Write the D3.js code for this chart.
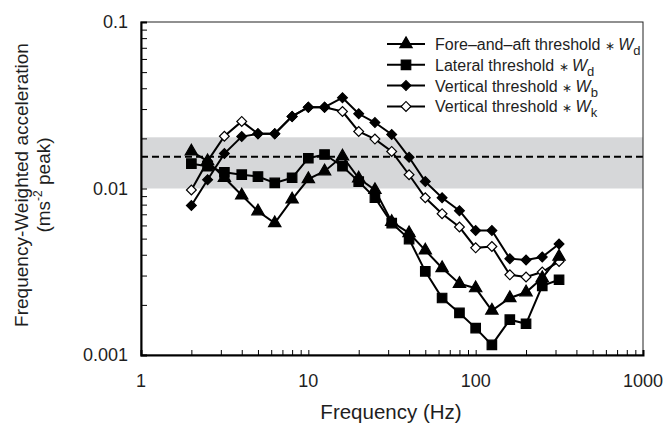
<!DOCTYPE html>
<html>
<head>
<meta charset="utf-8">
<script src="https://cdn.jsdelivr.net/npm/d3@7"></script>
<style>
  body { margin: 0; background: #fff; }
  svg { font-family: "Liberation Sans", Arial, sans-serif; }
</style>
</head>
<body>
<div id="chart"></div>
<script>
const freqs = [2, 2.5, 3.15, 4, 5, 6.3, 8, 10, 12.5, 16, 20, 25, 31.5, 40, 50, 63, 80, 100, 125, 160, 200, 250, 315]

const foreAft  = [0.0167, 0.0146, 0.0116, 0.0091, 0.0073, 0.0062, 0.0086, 0.0114, 0.0127, 0.0156, 0.0115, 0.0098, 0.0063, 0.0054, 0.00425, 0.00333, 0.00268, 0.00252, 0.00185, 0.0022, 0.00238, 0.0029, 0.0039]
const lateral  = [0.0141, 0.0136, 0.0125, 0.0121, 0.0118, 0.0108, 0.0116, 0.0152, 0.0160, 0.0136, 0.0110, 0.0088, 0.0062, 0.00497, 0.00318, 0.0022, 0.00179, 0.00145, 0.00115, 0.00163, 0.00154, 0.0026, 0.00283]
const vertB    = [0.0079, 0.0113, 0.0162, 0.0205, 0.0213, 0.0213, 0.0271, 0.0308, 0.0308, 0.0351, 0.0281, 0.0249, 0.0211, 0.0154, 0.0110, 0.0088, 0.00736, 0.0056, 0.0056, 0.00379, 0.00372, 0.00388, 0.00464]
const vertK    = [0.0098, 0.0146, 0.0206, 0.0253, 0.0213, 0.0213, 0.0271, 0.0308, 0.0308, 0.0290, 0.0220, 0.0198, 0.0167, 0.0121, 0.0088, 0.00706, 0.00587, 0.0044, 0.00448, 0.00303, 0.00294, 0.00315, 0.00365]

const bandRange = [0.01, 0.0203]
const thresholdLine = 0.0155

const xTicks = [1, 10, 100, 1000]
const yTicks = [0.001, 0.01, 0.1]

const W = 668, H = 424
const M = { top: 22, right: 25, bottom: 69, left: 141 }
const iw = W - M.left - M.right, ih = H - M.top - M.bottom
const INK = '#000'
const TEXT = '#1e1e1e'

const svg = d3.select('#chart').append('svg').attr('width', W).attr('height', H)
const g = svg.append('g').attr('transform', `translate(${M.left},${M.top})`)

const x = d3.scaleLog().domain([1, 1000]).range([0, iw])
const y = d3.scaleLog().domain([0.001, 0.1]).range([ih, 0])

// ── shaded band + dashed threshold ─────────────────────────────
g.append('rect')
  .attr('x', 0).attr('width', iw)
  .attr('y', y(bandRange[1])).attr('height', y(bandRange[0]) - y(bandRange[1]))
  .attr('fill', '#d6d7d9')

g.append('line')
  .attr('x1', 0).attr('x2', iw)
  .attr('y1', y(thresholdLine)).attr('y2', y(thresholdLine))
  .attr('stroke', INK).attr('stroke-width', 2).attr('stroke-dasharray', '7 4')

// ── frame ──────────────────────────────────────────────────────
g.append('rect').attr('width', iw).attr('height', ih)
  .attr('fill', 'none').attr('stroke', '#222').attr('stroke-width', 1)

// minor ticks (inward)
const minorX = []
for (let d = 1; d < 1000; d *= 10) for (let k = 2; k <= 10; k++) minorX.push(d * k)
const minorY = []
for (let d = 0.001; d < 0.1 - 1e-9; d *= 10) for (let k = 2; k <= 9; k++) minorY.push(d * k)

const gx = g.append('g').attr('transform', `translate(0,${ih})`)
  .call(d3.axisBottom(x).tickValues(minorX).tickSize(-5).tickFormat(''))
gx.select('.domain').attr('stroke-width', 2)
gx.selectAll('.tick line').attr('stroke-width', 1)

const gy = g.append('g')
  .call(d3.axisLeft(y).tickValues(minorY.concat(yTicks)).tickSize(-6).tickFormat(''))
gy.select('.domain').attr('stroke-width', 2)
gy.selectAll('.tick line').attr('stroke-width', 1)

// tick labels
g.selectAll('.xlab').data(xTicks).join('text').attr('class', 'xlab')
  .attr('x', d => x(d)).attr('y', ih + 32)
  .attr('text-anchor', 'middle').style('font-size', '18px').attr('fill', TEXT)
  .text(d => d)

g.selectAll('.ylab').data(yTicks).join('text').attr('class', 'ylab')
  .attr('x', -13).attr('y', d => y(d) + 6)
  .attr('text-anchor', 'end').style('font-size', '18px').attr('fill', TEXT)
  .text(d => d)

// axis titles
g.append('text').attr('x', iw / 2 - 1).attr('y', ih + 64)
  .attr('text-anchor', 'middle').style('font-size', '20.5px').attr('fill', TEXT)
  .text('Frequency (Hz)')

const yt = svg.append('text').attr('transform', 'translate(0,185) rotate(-90)')
  .attr('text-anchor', 'middle').style('font-size', '19px').attr('fill', TEXT)
yt.append('tspan').attr('x', 0).attr('y', 28).text('Frequency-Weighted acceleration')
const l2 = yt.append('tspan').attr('x', 0).attr('y', 50)
l2.append('tspan').text('(ms')
l2.append('tspan').attr('dy', -8).style('font-size', '12px').text('-2')
l2.append('tspan').attr('dy', 8).text(' peak)')

// ── series ─────────────────────────────────────────────────────
const diamond = d3.symbol().type(d3.symbolSquare).size(48)
const series = [
  { name: 'Vertical threshold ∗ ', sub: 'k', values: vertK, sym: diamond, rot: 45, fill: '#fff' },
  { name: 'Vertical threshold ∗ ', sub: 'b', values: vertB, sym: diamond, rot: 45, fill: INK },
  { name: 'Lateral threshold ∗ ', sub: 'd', values: lateral, sym: d3.symbol().type(d3.symbolSquare).size(90), rot: 0, fill: INK },
  { name: 'Fore–and–aft threshold ∗ ', sub: 'd', values: foreAft, sym: d3.symbol().type(d3.symbolTriangle).size(66), rot: 0, fill: INK },
]

const line = d3.line().x(d => x(d[0])).y(d => y(d[1]))

series.forEach(s => {
  const pts = freqs.map((f, i) => [f, s.values[i]])
  const sg = g.append('g')
  sg.append('path').datum(pts).attr('d', line)
    .attr('fill', 'none').attr('stroke', INK).attr('stroke-width', 2)
  sg.selectAll('path.m').data(pts).join('path').attr('class', 'm')
    .attr('d', s.sym)
    .attr('transform', d => `translate(${x(d[0])},${y(d[1])}) rotate(${s.rot})`)
    .attr('fill', s.fill).attr('stroke', INK).attr('stroke-width', 1.2)
})

// ── legend ─────────────────────────────────────────────────────
const legendOrder = [series[3], series[2], series[1], series[0]]
const lg = svg.append('g').attr('transform', 'translate(387,44)')
legendOrder.forEach((s, i) => {
  const row = lg.append('g').attr('transform', `translate(0,${i * 20.8})`)
  row.append('line').attr('x1', 0).attr('x2', 38).attr('stroke', INK).attr('stroke-width', 2)
  row.append('path').attr('d', s.sym).attr('transform', `translate(19,0) rotate(${s.rot})`)
    .attr('fill', s.fill).attr('stroke', INK).attr('stroke-width', 1.2)
  const t = row.append('text').attr('x', 48).attr('y', 6).style('font-size', '16px').attr('fill', TEXT)
  t.append('tspan').text(s.name.replace(' ∗ ', ' '))
  t.append('tspan').style('font-size', '12px').text('∗ ')
  t.append('tspan').style('font-style', 'italic').text('W')
  t.append('tspan').attr('dy', 5).style('font-size', '13px').text(s.sub)
})
</script>
</body>
</html>
